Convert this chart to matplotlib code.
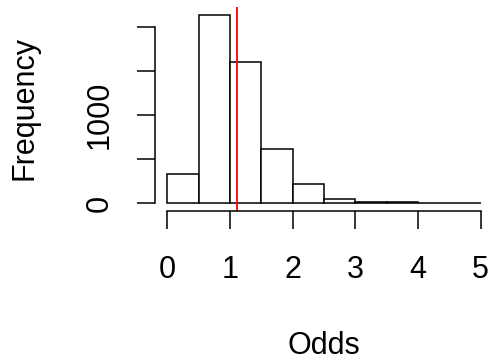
import numpy as np
import matplotlib.pyplot as plt

plt.rcParams['font.family'] = ['Liberation Sans', 'DejaVu Sans']

# histogram of odds, bins of width 0.5
bin_edges = [0, 0.5, 1, 1.5, 2, 2.5, 3, 3.5, 4, 4.5, 5]
counts = [335, 2130, 1595, 614, 215, 49, 20, 12, 8, 5]
mean_odds = 1.107

x_ticks = [0, 1, 2, 3, 4, 5]
y_ticks = [0, 500, 1000, 1500, 2000]
y_labels = ['0', '', '1000', '', '']

fig = plt.figure(figsize=(4.9, 3.59), dpi=100)
W, H = 490, 359
# plot region in pixels (R style, 4% padding)
left, right, top, bottom = 154.8, 493.3, 7.5, 210.8
ax = fig.add_axes([left / W, 1 - bottom / H, (right - left) / W, (bottom - top) / H])

lw = 1.1
ax.bar(bin_edges[:-1], counts, width=np.diff(bin_edges), align='edge',
       color='white', edgecolor='black', linewidth=lw)
ax.axvline(mean_odds, color='#ff0000', linewidth=1.3)

ymax = max(counts)
ax.set_xlim(-0.2, 5.2)
ax.set_ylim(-0.04 * ymax, 1.04 * ymax)

for s in ['top', 'right']:
    ax.spines[s].set_visible(False)
ax.spines['left'].set_bounds(0, 2000)
ax.spines['bottom'].set_bounds(0, 5)
ax.spines['left'].set_linewidth(lw)
ax.spines['bottom'].set_linewidth(lw)

ax.set_xticks(x_ticks)
ax.set_xticklabels([str(t) for t in x_ticks])
ax.set_yticks(y_ticks)
ax.set_yticklabels(y_labels, rotation=90, va='center')
ax.tick_params(axis='both', direction='out', length=13, width=lw, labelsize=22)
ax.tick_params(axis='x', pad=18.7)
ax.tick_params(axis='y', pad=16)

fig.text(324 / W, 1 - 354 / H, 'Odds', fontsize=22, ha='center', va='baseline')
fig.text(32 / W, 1 - 108 / H, 'Frequency', fontsize=22, ha='center', va='baseline',
         rotation=90, rotation_mode='anchor')

plt.savefig('out.png', dpi=100)
